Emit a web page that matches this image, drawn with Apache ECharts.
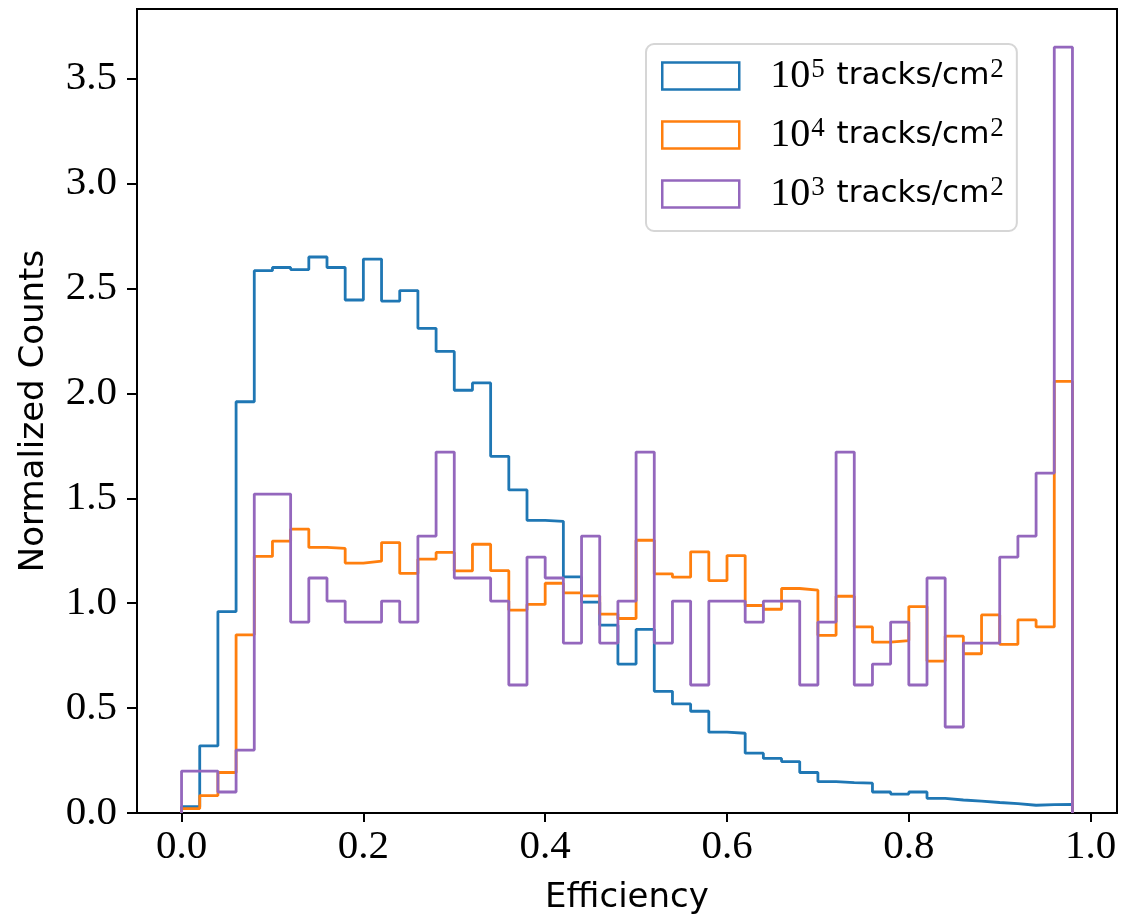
<!DOCTYPE html>
<html>
<head>
<meta charset="utf-8">
<script src="https://cdn.jsdelivr.net/npm/echarts@6/dist/echarts.min.js"></script>
<style>
html,body{margin:0;padding:0;background:#fff;}
#main{width:1122px;height:919px;}
</style>
</head>
<body>
<div id="main"></div>
<script>
// histogram bins: 49 bins of width 0.02 starting at 0
var binStart = 0;
var binWidth = 0.02;

// normalized counts per bin
var dens5 = [0.03, 0.32, 0.96, 1.96, 2.585, 2.60, 2.59, 2.65, 2.60, 2.445, 2.64, 2.44, 2.49, 2.31, 2.20, 2.015, 2.05,
  1.70, 1.54, 1.395, 1.39, 1.125, 1.005, 0.895, 0.71, 0.875, 0.58, 0.52, 0.485, 0.385, 0.38, 0.285, 0.26, 0.245,
  0.193, 0.15, 0.145, 0.142, 0.10, 0.09, 0.10, 0.07, 0.062, 0.057, 0.05, 0.045, 0.037, 0.04, 0.041];
var dens4 = [0.021, 0.083, 0.193, 0.849, 1.223, 1.296, 1.353, 1.266, 1.261, 1.191, 1.200, 1.289, 1.142, 1.210, 1.242,
  1.154, 1.281, 1.155, 0.967, 0.994, 1.095, 1.049, 1.035, 0.948, 0.927, 1.300, 1.140, 1.124, 1.245, 1.108, 1.227,
  0.989, 0.971, 1.070, 1.062, 0.847, 1.033, 0.887, 0.814, 0.822, 0.984, 0.724, 0.843, 0.759, 0.944, 0.804, 0.920,
  0.887, 2.057];
var dens3 = [0.20, 0.20, 0.10, 0.30, 1.52, 1.52, 0.91, 1.12, 1.01, 0.91, 0.91, 1.01, 0.91, 1.32, 1.72, 1.12, 1.12,
  1.01, 0.61, 1.22, 1.12, 0.81, 1.32, 0.81, 1.01, 1.72, 0.81, 1.01, 0.61, 1.01, 1.01, 0.91, 1.01, 1.01, 0.61, 0.91,
  1.72, 0.61, 0.71, 0.91, 0.61, 1.12, 0.41, 0.81, 0.81, 1.22, 1.32, 1.62, 3.65];

var names = ['1e5', '1e4', '1e3'];
var exps = ['5', '4', '3'];
var colors = ['#1f77b4', '#ff7f0e', '#9467bd'];

var xTicks = [0, 0.2, 0.4, 0.6, 0.8, 1.0];
var yTicks = [0, 0.5, 1.0, 1.5, 2.0, 2.5, 3.0, 3.5];

// outline of a step histogram
function stepPath(vals) {
  var pts = [[binStart, 0]];
  for (var i = 0; i < vals.length; i++) {
    pts.push([binStart + i * binWidth, vals[i]]);
  }
  var end = binStart + vals.length * binWidth;
  pts.push([end, vals[vals.length - 1]]);
  pts.push([end, 0]);
  return pts;
}

var allVals = [dens5, dens4, dens3];
var series = [];
for (var k = 0; k < 3; k++) {
  series.push({
    name: names[k],
    type: 'line',
    step: 'end',
    symbol: 'none',
    data: stepPath(allVals[k]),
    lineStyle: {color: colors[k], width: 2.8},
    itemStyle: {color: colors[k]}
  });
}

var myChart = echarts.init(document.getElementById('main'));
var option = {
  animation: false,
  backgroundColor: '#fff',
  grid: {
    left: 137, right: 5, top: 9, bottom: 106,
    show: true, borderColor: '#000', borderWidth: 2,
    outerBoundsMode: 'none'
  },
  xAxis: {
    type: 'value',
    min: -0.049, max: 1.029,
    name: 'Efficiency',
    nameLocation: 'middle',
    nameGap: 68,
    nameTextStyle: {fontFamily: 'DejaVu Sans', fontSize: 34, color: '#000'},
    axisLine: {show: false, onZero: false},
    splitLine: {show: false},
    axisTick: {show: true, inside: false, length: 9, lineStyle: {color: '#000', width: 2}, customValues: xTicks},
    axisLabel: {
      customValues: xTicks, margin: 14, color: '#000',
      fontFamily: 'Liberation Serif', fontSize: 41,
      formatter: function (v) { return v.toFixed(1); }
    }
  },
  yAxis: {
    type: 'value',
    min: 0, max: 3.832,
    name: 'Normalized Counts',
    nameLocation: 'middle',
    nameGap: 86,
    nameTextStyle: {fontFamily: 'DejaVu Sans', fontSize: 34, color: '#000'},
    axisLine: {show: false, onZero: false},
    splitLine: {show: false},
    axisTick: {show: true, inside: false, length: 10, lineStyle: {color: '#000', width: 2}, customValues: yTicks},
    axisLabel: {
      customValues: yTicks, margin: 20, color: '#000',
      fontFamily: 'Liberation Serif', fontSize: 41,
      formatter: function (v) { return v.toFixed(1); }
    }
  },
  legend: {
    orient: 'vertical',
    left: 646, top: 44,
    icon: 'rect',
    itemWidth: 77, itemHeight: 27,
    itemGap: 19,
    padding: [12, 11, 17, 15],
    backgroundColor: '#fff',
    borderColor: '#d6d6d6',
    borderWidth: 2,
    borderRadius: 8,
    selectedMode: false,
    data: names.map(function (n, i) {
      return {name: n, itemStyle: {color: '#fff', borderColor: colors[i], borderWidth: 2.5}};
    }),
    formatter: function (name) {
      var e = exps[names.indexOf(name)];
      return '{n|10}{s|' + e + '}{t| tracks/cm}{s|2}';
    },
    textStyle: {
      padding: [0, 0, 0, 26],
      rich: {
        n: {fontFamily: 'Liberation Serif', fontSize: 40, color: '#000', lineHeight: 40},
        s: {fontFamily: 'Liberation Serif', fontSize: 27, color: '#000', lineHeight: 20, verticalAlign: 'top', padding: [0, 2, 0, 1]},
        t: {fontFamily: 'DejaVu Sans', fontSize: 31, color: '#000', lineHeight: 40}
      }
    }
  },
  series: series
};
myChart.setOption(option);
</script>
</body>
</html>
